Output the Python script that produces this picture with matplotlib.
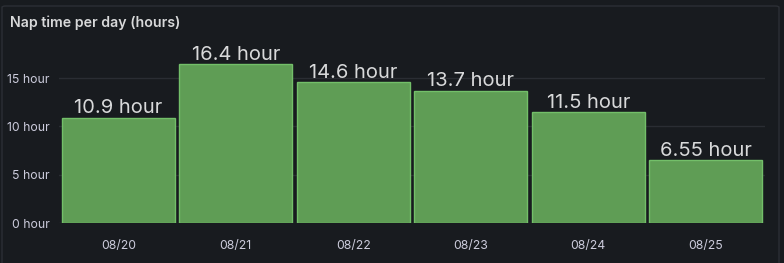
import matplotlib
matplotlib.use("Agg")
import matplotlib.pyplot as plt
from matplotlib.patches import FancyBboxPatch

days = ["08/20", "08/21", "08/22", "08/23", "08/24", "08/25"]
hours = [10.9, 16.4, 14.6, 13.7, 11.5, 6.55]
value_labels = ["10.9 hour", "16.4 hour", "14.6 hour", "13.7 hour", "11.5 hour", "6.55 hour"]
yticks = [0, 5, 10, 15]
ytick_labels = ["0 hour", "5 hour", "10 hour", "15 hour"]
title = "Nap time per day (hours)"

plt.rcParams['font.family'] = ['Inter', 'DejaVu Sans']
W, H = 784, 263
fig = plt.figure(figsize=(W/100, H/100), dpi=100)
bg = "#181b1f"
fig.patch.set_facecolor(bg)

# panel border
fig.patches.append(FancyBboxPatch((2/W, -10/H), 777/W, (H-6+10)/H,
                                  boxstyle="round,pad=0,rounding_size=0.005",
                                  transform=fig.transFigure, facecolor=bg,
                                  edgecolor="#2c2f35", linewidth=1, zorder=-5))

fig.text(10/W, 1 - 23/H, title, color="#d8d9da", fontsize=10.2,
         fontweight="semibold", va="center", ha="left")

left, right = 59.5/W, 764.5/W
ymax = 19
px_per = 145/15
ax = fig.add_axes([left, 1 - 223/H, right-left, ymax*px_per/H])
ax.set_facecolor("none")
ax.set_zorder(1)
x = list(range(len(days)))
ax.bar(x, hours, width=0.962, color="#5f9d55", edgecolor="#73bf69", linewidth=1, zorder=3)
for xi, h, lab in zip(x, hours, value_labels):
    ax.annotate(lab, (xi, h), xytext=(0, 3), textcoords="offset points",
                ha="center", va="baseline", color="#d8d9da", fontsize=14.5, zorder=4)
ax.set_xlim(-0.5, len(days)-0.5)
ax.set_ylim(0, ymax)
ax.set_yticks(yticks)
ax.set_yticklabels(ytick_labels)
ax.set_xticks(x)
ax.set_xticklabels(days)
ax.tick_params(axis='both', colors="#ccccdc", labelsize=8.8, length=0)
ax.tick_params(axis='y', pad=7)
ax.tick_params(axis='x', pad=12)
ax.grid(axis='y', color="#2a2d33", linewidth=1, zorder=0)
for s in ax.spines.values():
    s.set_visible(False)

fig.savefig("out.png", dpi=100, facecolor=bg)
